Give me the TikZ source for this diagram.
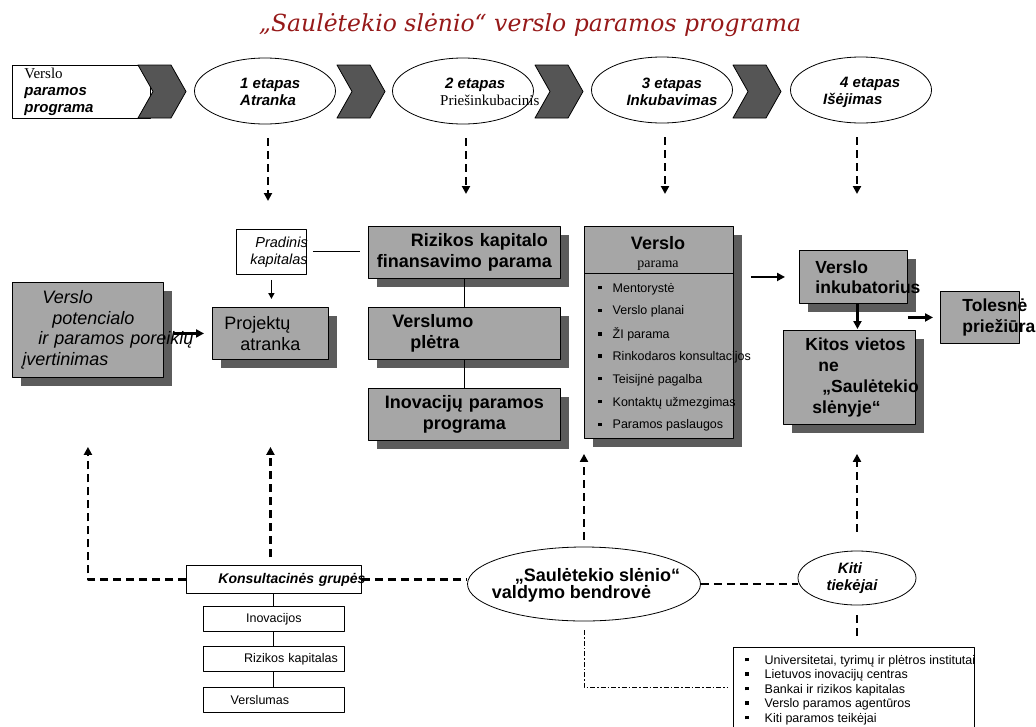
\documentclass[tikz,border=0pt]{standalone}
\usepackage{fontspec}
\setmainfont{Liberation Sans}
\newfontfamily\timesfont{Liberation Serif}
\newfontfamily\titlefont{DejaVu Serif}
\usetikzlibrary{shapes.geometric,shadows,arrows.meta}

\definecolor{boxgray}{RGB}{166,166,166}
\definecolor{shadegray}{RGB}{92,92,92}
\definecolor{chevgray}{RGB}{85,85,85}
\definecolor{titlered}{RGB}{150,25,25}

\newcommand{\fs}[2]{\fontsize{#1}{#2}\selectfont}
\newcommand{\sqb}{\rule[0.22em]{3.5pt}{3.5pt}}

\tikzset{
  gbox/.style={draw, fill=boxgray, line width=0.9pt, inner ysep=0pt, anchor=north west,
    general shadow={fill=shadegray, shadow xshift=9pt, shadow yshift=-9pt}},
  wbox/.style={draw, fill=white, line width=0.8pt, inner ysep=0pt, anchor=north west},
  stage/.style={ellipse, draw, fill=white, line width=0.8pt, minimum width=141pt, minimum height=66pt, inner sep=0pt},
  stagetxt/.style={inner sep=0pt, font=\fs{15}{17}\bfseries\itshape},
  dashlink/.style={line width=2.2pt, dash pattern=on 8pt off 5pt},
  dasharrow/.style={dashlink, -{Triangle[width=8pt,length=8pt]}},
  fatarrow/.style={line width=2.2pt, -{Triangle[width=8pt,length=8pt]}},
  thinline/.style={line width=0.9pt},
  item/.style={anchor=west, inner sep=0pt, font=\fs{12.5}{14}},
}

\begin{document}
\begin{tikzpicture}[x=1pt, y=-1pt, line join=round]
	\useasboundingbox (0,0) rectangle (1036,726);
	\clip (0,0) rectangle (1036,726);
	% title
	\node[font=\titlefont\itshape\fs{23.5}{28}, text=titlered] (title) at (530,25) {„Saulėtekio slėnio“ verslo paramos programa};
	% stages
	\node[wbox, minimum height=53pt, text width=114pt, inner xsep=12pt, align=left, font=\fs{15}{17}\bfseries\itshape] (vpp) at (12,65) {{\timesfont\mdseries\upshape Verslo}\\paramos\\programa};
	\foreach \cx in {138,337,535,733}
		\filldraw[fill=chevgray, line width=0.8pt] (\cx,65) -- ++(33,0) -- ++(15,26.5) -- ++(-15,26.5) -- ++(-33,0) -- ++(15,-26.5) -- cycle;
	\node[stage] (e1) at (265,91) {};
	\node[stage] (e2) at (463,91) {};
	\node[stage] (e3) at (662,90) {};
	\node[stage] (e4) at (861,90) {};
	\node[stagetxt, anchor=west, align=left] (t1) at (240,92) {1 etapas\\Atranka};
	\node[stagetxt, anchor=west, align=left] (t2) at (440,92) {\hspace*{5pt}2 etapas\\{\timesfont\mdseries\upshape Priešinkubacinis}};
	\node[stagetxt, align=center] (t3) at (672,92) {3 etapas\\Inkubavimas};
	\node[stagetxt, anchor=west, align=left] (t4) at (823,92) {\hspace*{17pt}4 etapas\\Išėjimas};
	% middle row
	\node[gbox, minimum height=95pt, text width=131pt, inner xsep=10pt, align=left, font=\fs{18}{20.5}\itshape] (vpot) at (12,282) {\hspace*{20pt}Verslo\\\hspace*{30pt}potencialo\\\hspace*{16pt}\mbox{ir paramos poreikių}\\įvertinimas};
	\node[gbox, minimum height=52pt, text width=92pt, inner xsep=12pt, align=left, font=\fs{18}{21}] (proj) at (212,307) {Projektų\\\hspace*{16pt}atranka};
	\node[wbox, minimum height=45pt, text width=42pt, inner xsep=14pt, align=left, font=\fs{14.5}{17}\itshape] (pk) at (236,229) {\hspace*{5pt}\mbox{Pradinis}\\\mbox{kapitalas}};
	\node[gbox, minimum height=52pt, text width=180pt, inner xsep=6pt, align=center, font=\fs{18}{21}\bfseries] (rkf) at (368,226) {\hspace*{30pt}Rizikos kapitalo\\finansavimo parama};
	\node[gbox, minimum height=52pt, text width=144pt, inner xsep=24pt, align=left, font=\fs{18}{21}\bfseries] (vpl) at (368,307) {Verslumo\\\hspace*{18pt}plėtra};
	\node[gbox, minimum height=52pt, text width=180pt, inner xsep=6pt, align=center, font=\fs{18}{21}\bfseries] (ipp) at (368,388) {Inovacijų paramos\\programa};
	\node[gbox, minimum width=149pt, minimum height=212pt, inner sep=0pt] (vpar) at (584,226) {};
	\node[align=center, inner sep=0pt, font=\fs{18}{18}\bfseries] (vparh) at (658,253) {Verslo\\{\timesfont\mdseries\fs{14}{16}parama}};
	\draw[thinline] (vpar.west |- 0,273) -- (vpar.east |- 0,273);
	\foreach \itm [count=\i] in {Mentorystė,Verslo planai,ŽI parama,Rinkodaros konsultacijos,Teisijnė pagalba,Kontaktų užmezgimas,Paramos paslaugos}
		\node[item] (vpi\i) at (598,{266+22.8*\i}) {\sqb\hspace{11pt}\itm};
	\node[gbox, minimum height=53pt, text width=76pt, inner xsep=16pt, align=left, font=\fs{17.5}{20}\bfseries] (vinc) at (799,250) {Verslo\\\mbox{inkubatorius}};
	\node[gbox, minimum height=94pt, text width=88pt, inner xsep=22pt, align=left, font=\fs{17.5}{21}\bfseries] (kit) at (783,330) {\mbox{Kitos vietos}\\\hspace*{13pt}ne\\\hspace*{17pt}\mbox{„Saulėtekio}\\\hspace*{7pt}\mbox{slėnyje“}};
	\node[draw, fill=boxgray, line width=0.9pt, anchor=north west, minimum height=52pt, text width=35pt, inner xsep=22pt, inner ysep=0pt, align=left, font=\fs{17.5}{21}\bfseries] (tol) at (940,291) {\mbox{Tolesnė}\\\mbox{priežiūra}};
	% bottom row
	\node[wbox, minimum height=28pt, text width=111pt, inner xsep=32pt, align=left, font=\fs{14}{16}\bfseries\itshape] (kg) at (186,565) {\mbox{Konsultacinės grupės}};
	\foreach \nm/\txt/\yy in {ki1/{Inovacijos}/606, ki2/{\hspace*{34pt}Rizikos kapitalas}/646, ki3/{Verslumas\hspace*{28pt}\mbox{}}/687}
		\node[wbox, minimum height=25pt, text width=135pt, inner xsep=3pt, align=center, font=\fs{12.5}{14}] (\nm) at (203,\yy) {\txt};
	\node[ellipse, draw, fill=white, line width=0.8pt, minimum width=233pt, minimum height=74pt] (sv) at (584,584) {};
	\node[align=left, inner sep=0pt, font=\fs{18}{17}\bfseries] (svt) at (586,585) {\hspace*{23pt}„Saulėtekio slėnio“\\valdymo bendrovė};
	\node[ellipse, draw, fill=white, line width=0.8pt, minimum width=118pt, minimum height=54pt, inner sep=0pt, align=center, font=\fs{15}{17}\bfseries\itshape] (kiti) at (857,578) {Kiti\hspace*{14pt}\mbox{}\\tiekėjai\hspace*{10pt}\mbox{}};
	\node[draw, line width=0.8pt, anchor=north west, minimum width=241pt, minimum height=88pt] (lst) at (733,647) {};
	\foreach \itm [count=\i] in {{Universitetai, tyrimų ir plėtros institutai},Lietuvos inovacijų centras,Bankai ir rizikos kapitalas,Verslo paramos agentūros,Kiti paramos teikėjai}
		\node[item] (li\i) at (745,{646.5+14.5*\i}) {\sqb\hspace{16pt}\itm};
	% connectors
	\foreach \s/\t/\dx/\g in {e1/pk/3/28, e2/rkf/3/32, e3/vpar/3/32, e4/vinc/-4/56}
		\draw[dasharrow, shorten <=14pt, shorten >=\g pt] ([xshift=\dx pt]\s.south) -- ([xshift=\dx pt]\s.south |- \t.north);
	\draw[thinline, shorten <=6pt, shorten >=8pt] (pk.east) -- (pk.east -| rkf.west);
	\draw[line width=1.5pt, -{Triangle[width=6pt,length=6pt]}, shorten <=5pt, shorten >=8pt] (pk.south) -- (pk.south |- proj.north);
	\draw[fatarrow, shorten <=10pt, shorten >=8pt] (proj.west -| vpot.east) -- (proj.west);
	\draw[thinline] (rkf.south) -- (vpl.north) (vpl.south) -- (ipp.north);
	\draw[fatarrow, shorten <=17pt, shorten >=14pt] (vinc.west -| vpar.east) -- (vinc.west);
	\draw[fatarrow, shorten >=1pt] ([xshift=4pt]vinc.south) -- ([xshift=4pt]vinc.south |- kit.north);
	\draw[fatarrow, shorten >=7pt] (tol.west -| vinc.east) -- (tol.west);
	\draw[thinline] (kg.south) -- (ki1.north) (ki1.south) -- (ki2.north) (ki2.south) -- (ki3.north);
	\draw[dasharrow, shorten >=69pt] (kg.west) -| (vpot.south);
	\draw[dasharrow, shorten <=8pt, shorten >=87pt] (kg.north -| proj.south) -- (proj.south);
	\draw[dasharrow, shorten <=7pt, shorten >=15pt] (sv.north) -- (sv.north |- vpar.south);
	\draw[dasharrow, shorten <=19pt, shorten >=29pt] (kiti.north) -- (kiti.north |- kit.south);
	\draw[dashlink] (kg.east) -- (kg.east -| sv.west);
	\draw[dashlink] (sv.east) -- (sv.east -| kiti.west);
	\draw[dashlink, shorten <=10pt, shorten >=9pt] (kiti.south) -- (kiti.south |- lst.north);
	\draw[line width=1pt, dash pattern=on 5pt off 2pt on 1.5pt off 2pt, shorten <=9pt, shorten >=6pt] (sv.south) |- ([yshift=4pt]lst.west);
\end{tikzpicture}
\end{document}
